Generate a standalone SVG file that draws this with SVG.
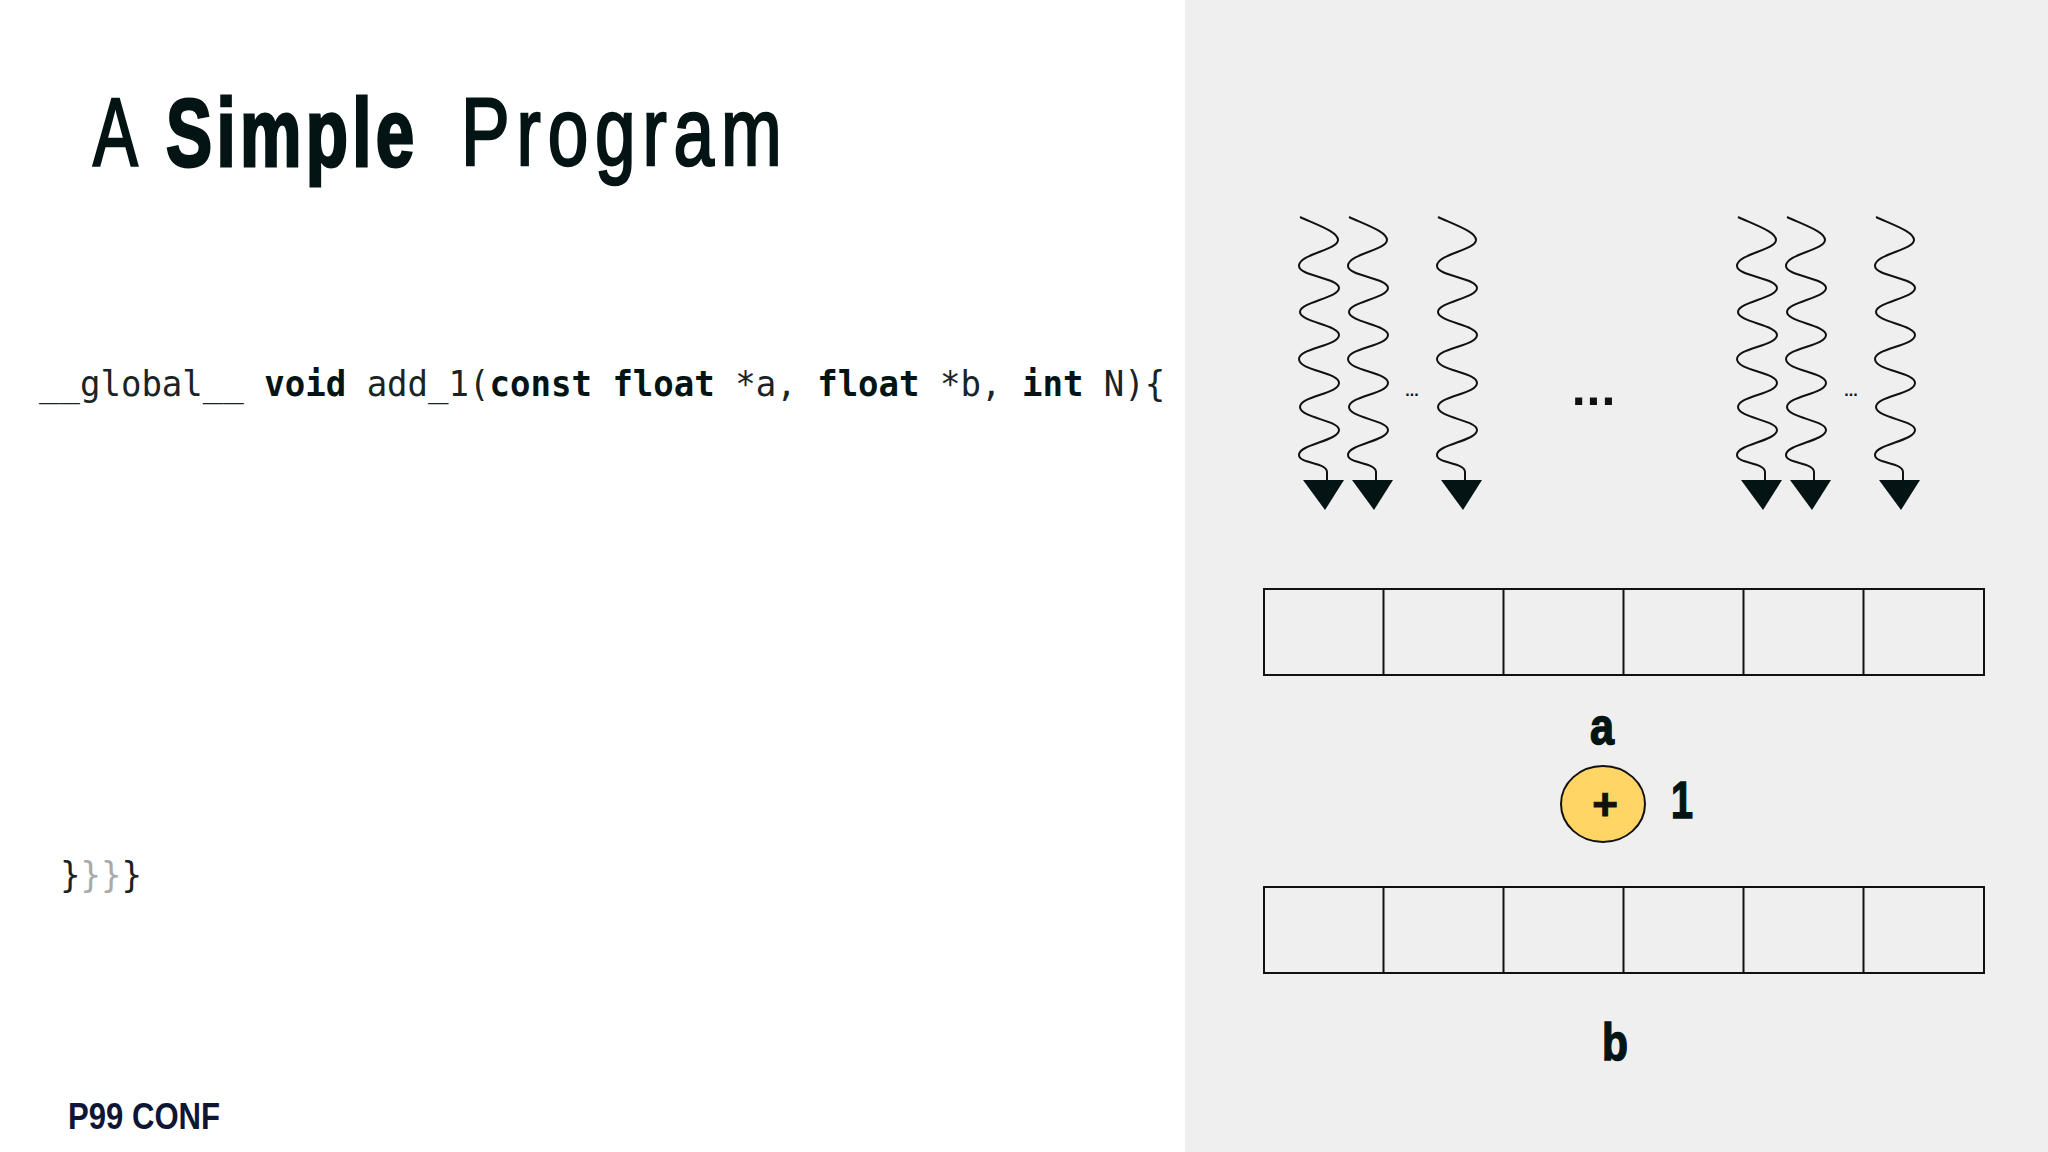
<svg xmlns="http://www.w3.org/2000/svg" width="2048" height="1152" viewBox="0 0 2048 1152">
<style>
.title{font-family:"Liberation Sans",sans-serif;font-size:96px;fill:#041414;stroke:#041414}
.code{font-family:"DejaVu Sans Mono",monospace;font-size:36px;fill:#1a2424}
.b{font-weight:700;fill:#041414}
.lab{font-family:"Liberation Sans",sans-serif;font-weight:700;fill:#041414;font-size:52px;stroke:#041414;stroke-width:1.500}
.cell{fill:none;stroke:#111;stroke-width:2}
.wave{fill:none;stroke:#111;stroke-width:2}
.dots{font-family:"Liberation Sans",sans-serif;font-weight:700;fill:#111;text-anchor:middle}
</style>
<defs>
<g id="w">
<path class="wave" d="M1300 217C1320 226 1338 232 1338 240C1338 250 1299 254 1299 266C1299 276 1339 278 1339 288C1339 298 1300 302 1300 312C1300 322 1339 325 1339 335C1339 346 1299 348 1299 359C1299 371 1339 372 1339 383C1339 394 1300 396 1300 407C1300 418 1339 420 1339 430C1339 441 1299 444 1299 455C1299 464 1327 462 1327 472L1327 482"/>
<path fill="#041414" d="M1303 480H1344L1325 510Z"/>
</g>
<g id="row">
<rect class="cell" x="1264" y="0" width="720" height="86"/>
<path class="cell" d="M1383.500 0V86M1503.500 0V86M1623.500 0V86M1743.500 0V86M1863.500 0V86"/>
</g>
</defs>
<rect width="2048" height="1152" fill="#fff"/>
<rect x="1185" width="863" height="1152" fill="#efefef"/>
<g id="title">
<text class="title" transform="translate(93 165) scale(.7 1)" stroke-width="2.500">A</text>
<text class="title" transform="translate(166 166) scale(.72 1)" font-weight="700" letter-spacing="6" stroke-width="3">Simple</text>
<text class="title" transform="translate(461 165) scale(.76 1)" letter-spacing="9" stroke-width="2.500">Program</text>
</g>
<g id="code">
<text class="code" transform="translate(39 396) scale(.945 1)"><tspan>__global__ </tspan><tspan class="b">void</tspan><tspan> add_1(</tspan><tspan class="b">const float</tspan><tspan> *a, </tspan><tspan class="b">float</tspan><tspan> *b, </tspan><tspan class="b">int</tspan><tspan> N){</tspan></text>
<text class="code" transform="translate(60 887) scale(.945 1)"><tspan>}</tspan><tspan fill="#aaa">}}</tspan><tspan>}</tspan></text>
</g>
<g id="threads-left">
<use href="#w"/><use href="#w" x="49"/><use href="#w" x="138"/>
<text class="dots" x="1412" y="396" font-size="16">...</text>
</g>
<text class="dots" x="1594" y="405" font-size="50" letter-spacing="1">...</text>
<g id="threads-right">
<use href="#w" x="438"/><use href="#w" x="487"/><use href="#w" x="576"/>
<text class="dots" x="1851" y="396" font-size="16">...</text>
</g>
<g id="array-a"><use href="#row" y="589"/><text class="lab" x="1590" y="744" textLength="24" lengthAdjust="spacingAndGlyphs">a</text></g>
<g id="add">
<ellipse cx="1603" cy="804" rx="42" ry="38" fill="#ffd666" stroke="#111" stroke-width="2"/>
<text x="1605" y="820" text-anchor="middle" font-family="Liberation Sans,sans-serif" font-weight="700" font-size="44" fill="#111" stroke="#111" stroke-width="1">+</text>
<text class="lab" x="1671" y="818" font-size="50" textLength="22" lengthAdjust="spacingAndGlyphs">1</text>
</g>
<g id="array-b"><use href="#row" y="887"/><text class="lab" x="1602" y="1060" textLength="26" lengthAdjust="spacingAndGlyphs">b</text></g>
<text id="logo" x="68" y="1129" font-family="Liberation Sans,sans-serif" font-weight="700" font-size="36" fill="#0f1535" textLength="152" lengthAdjust="spacingAndGlyphs">P99 CONF</text>
</svg>
